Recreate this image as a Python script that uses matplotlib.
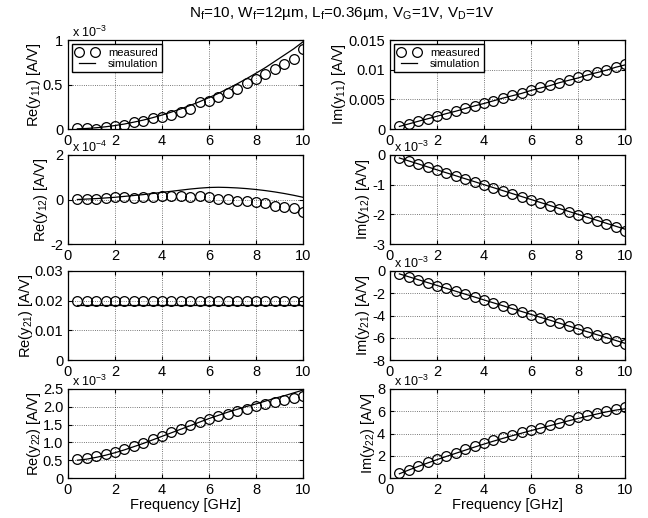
import matplotlib
matplotlib.use("Agg")
import matplotlib.pyplot as plt

plt.rcParams['font.family'] = ['Liberation Sans', 'DejaVu Sans']
plt.rcParams['mathtext.default'] = 'regular'
plt.rcParams['font.size'] = 10

# frequency points [GHz]
freq = [0.4, 0.8, 1.2, 1.6, 2.0, 2.4, 2.8, 3.2, 3.6, 4.0, 4.4, 4.8, 5.2,
        5.6, 6.0, 6.4, 6.8, 7.2, 7.6, 8.0, 8.4, 8.8, 9.2, 9.6, 10.0]

# Re(y11) x 1e-3
re_y11_meas = [0.01, 0.01, 0.005, 0.02, 0.03, 0.05, 0.08, 0.09, 0.12, 0.14, 0.16, 0.19, 0.23,
               0.30, 0.32, 0.36, 0.41, 0.45, 0.52, 0.56, 0.62, 0.67, 0.73, 0.79, 0.90]
re_y11_sim = [0.002, 0.006, 0.014, 0.025, 0.039, 0.056, 0.077, 0.100, 0.127, 0.157, 0.190, 0.226, 0.265,
              0.307, 0.353, 0.400, 0.453, 0.508, 0.566, 0.627, 0.690, 0.760, 0.830, 0.900, 0.980]
# Im(y11)
im_y11_meas = [0.00044, 0.00087, 0.0013, 0.00174, 0.00218, 0.0026, 0.00305, 0.0035, 0.0039, 0.0044,
               0.0048, 0.0052, 0.0057, 0.0061, 0.0065, 0.0070, 0.0074, 0.0078, 0.0083, 0.0087,
               0.0091, 0.0096, 0.0100, 0.0104, 0.0109]
im_y11_sim = [0.00043, 0.00086, 0.0013, 0.00172, 0.00215, 0.0026, 0.0030, 0.00345, 0.0039, 0.0043,
              0.00475, 0.0052, 0.0056, 0.0060, 0.0065, 0.0069, 0.0073, 0.0078, 0.0082, 0.0086,
              0.0091, 0.0095, 0.0099, 0.0104, 0.0108]
# Re(y12) x 1e-4
re_y12_meas = [0.02, 0.02, 0.02, 0.05, 0.13, 0.13, 0.07, 0.13, 0.13, 0.17, 0.14, 0.17, 0.10,
               0.16, 0.13, 0.02, 0.02, -0.05, -0.05, -0.13, -0.16, -0.31, -0.35, -0.40, -0.55]
re_y12_sim = [0.0, 0.02, 0.04, 0.07, 0.10, 0.14, 0.18, 0.22, 0.27, 0.32, 0.37, 0.42, 0.47,
              0.51, 0.54, 0.55, 0.54, 0.52, 0.49, 0.45, 0.40, 0.34, 0.27, 0.19, 0.10]
# Im(y12) x 1e-3
im_y12_meas = [-0.10, -0.20, -0.30, -0.40, -0.50, -0.60, -0.70, -0.80, -0.90, -1.00, -1.10, -1.20, -1.30,
               -1.40, -1.50, -1.61, -1.71, -1.82, -1.93, -2.03, -2.13, -2.23, -2.34, -2.44, -2.55]
im_y12_sim = [-0.10, -0.20, -0.30, -0.40, -0.50, -0.60, -0.70, -0.80, -0.90, -1.00, -1.10, -1.20, -1.30,
              -1.40, -1.50, -1.60, -1.70, -1.80, -1.90, -2.00, -2.10, -2.20, -2.30, -2.40, -2.50]
# Re(y21)
re_y21_meas = [0.0199, 0.0199, 0.0199, 0.0199, 0.0199, 0.0199, 0.0199, 0.0199, 0.0199, 0.0199,
               0.0199, 0.0199, 0.0199, 0.0199, 0.0199, 0.0199, 0.0199, 0.0199, 0.0199, 0.0199,
               0.0199, 0.0199, 0.0199, 0.0199, 0.0199]
re_y21_sim = [0.0186, 0.0186, 0.0186, 0.0186, 0.0186, 0.0186, 0.0186, 0.0186, 0.0186, 0.0186,
              0.0186, 0.0186, 0.0186, 0.0186, 0.0186, 0.0186, 0.0186, 0.0186, 0.0186, 0.0186,
              0.0186, 0.0186, 0.0186, 0.0186, 0.0186]
# Im(y21) x 1e-3
im_y21_meas = [-0.26, -0.52, -0.79, -1.05, -1.31, -1.57, -1.83, -2.10, -2.36, -2.62, -2.88, -3.14, -3.40,
               -3.67, -3.93, -4.19, -4.45, -4.71, -4.98, -5.24, -5.50, -5.76, -6.02, -6.29, -6.55]
im_y21_sim = [-0.26, -0.52, -0.78, -1.04, -1.30, -1.56, -1.82, -2.08, -2.34, -2.60, -2.86, -3.12, -3.38,
              -3.64, -3.90, -4.16, -4.42, -4.68, -4.94, -5.20, -5.46, -5.72, -5.98, -6.24, -6.50]
# Re(y22) x 1e-3
re_y22_meas = [0.54, 0.56, 0.61, 0.68, 0.74, 0.82, 0.91, 0.99, 1.09, 1.19, 1.29, 1.38, 1.48,
               1.57, 1.65, 1.74, 1.80, 1.88, 1.94, 2.01, 2.07, 2.13, 2.19, 2.25, 2.29]
re_y22_sim = [0.50, 0.53, 0.58, 0.64, 0.71, 0.79, 0.88, 0.97, 1.07, 1.17, 1.27, 1.37, 1.47,
              1.57, 1.67, 1.76, 1.85, 1.93, 2.01, 2.08, 2.16, 2.24, 2.31, 2.39, 2.47]
# Im(y22) x 1e-3
im_y22_meas = [0.42, 0.75, 1.08, 1.40, 1.70, 2.00, 2.28, 2.57, 2.85, 3.14, 3.40, 3.65, 3.88,
               4.10, 4.31, 4.53, 4.75, 4.97, 5.20, 5.45, 5.62, 5.82, 6.02, 6.22, 6.40]
im_y22_sim = [0.38, 0.72, 1.04, 1.35, 1.65, 1.94, 2.22, 2.50, 2.78, 3.05, 3.31, 3.56, 3.80,
              4.03, 4.26, 4.48, 4.70, 4.92, 5.14, 5.35, 5.55, 5.75, 5.94, 6.10, 6.22]

panels = [
    # (meas, sim, ylabel, ylim, yticks, yticklabels, multiplier, legend)
    (re_y11_meas, re_y11_sim, r'Re(y$_{11}$) [A/V]', (0, 1), [0, 0.5, 1], ['0', '0.5', '1'], '-3', True),
    (im_y11_meas, im_y11_sim, r'Im(y$_{11}$) [A/V]', (0, 0.015), [0, 0.005, 0.01, 0.015],
     ['0', '0.005', '0.01', '0.015'], None, True),
    (re_y12_meas, re_y12_sim, r'Re(y$_{12}$) [A/V]', (-2, 2), [-2, 0, 2], ['-2', '0', '2'], '-4', False),
    (im_y12_meas, im_y12_sim, r'Im(y$_{12}$) [A/V]', (-3, 0), [-3, -2, -1, 0], ['-3', '-2', '-1', '0'], '-3', False),
    (re_y21_meas, re_y21_sim, r'Re(y$_{21}$) [A/V]', (0, 0.03), [0, 0.01, 0.02, 0.03],
     ['0', '0.01', '0.02', '0.03'], None, False),
    (im_y21_meas, im_y21_sim, r'Im(y$_{21}$) [A/V]', (-8, 0), [-8, -6, -4, -2, 0],
     ['-8', '-6', '-4', '-2', '0'], '-3', False),
    (re_y22_meas, re_y22_sim, r'Re(y$_{22}$) [A/V]', (0, 2.5), [0, 0.5, 1.0, 1.5, 2.0, 2.5],
     ['0', '0.5', '1.0', '1.5', '2.0', '2.5'], '-3', False),
    (im_y22_meas, im_y22_sim, r'Im(y$_{22}$) [A/V]', (0, 8), [0, 2, 4, 6, 8], ['0', '2', '4', '6', '8'], '-3', False),
]

fig = plt.figure(figsize=(6.48, 5.18), dpi=100)
W, H = 648.0, 518.0
row_tops = [40, 155, 271, 389]
col_lefts = [68, 390]
ax_w, ax_h = 235, 89

for i, (meas, sim, ylab, ylim, yt, ytl, mult, leg) in enumerate(panels):
    r, c = divmod(i, 2)
    ax = fig.add_axes([col_lefts[c] / W, 1 - (row_tops[r] + ax_h) / H, ax_w / W, ax_h / H])
    ax.plot(freq, meas, 'o', mfc='none', mec='black', ms=7, mew=0.9, label='measured')
    ax.plot(freq, sim, '-', color='black', lw=0.9, label='simulation')
    ax.set_xlim(0, 10)
    ax.set_ylim(*ylim)
    ax.set_xticks([0, 2, 4, 6, 8, 10])
    ax.set_yticks(yt)
    ax.set_yticklabels(ytl)
    ax.grid(True, linestyle=':', color='black', linewidth=0.6, alpha=0.7)
    ax.tick_params(direction='in', top=True, right=True, length=3, labelsize=10.5)
    ax.set_ylabel(ylab, fontsize=10.5, labelpad=0)
    for s in ax.spines.values():
        s.set_linewidth(0.9)
    if mult is not None:
        ax.text(0.015, 1.0, r'x 10$^{%s}$' % mult, transform=ax.transAxes, fontsize=9,
                ha='left', va='bottom')
    if leg:
        ax.legend(loc='upper left', numpoints=2, fontsize=8, frameon=True, fancybox=False,
                  edgecolor='black', framealpha=1, handlelength=2.0, borderpad=0.3,
                  labelspacing=0.1, handletextpad=0.9, borderaxespad=0.4)
    if r == 3:
        ax.set_xlabel('Frequency [GHz]', fontsize=10.5, labelpad=1)

fig.text(342 / W, 1 - 14 / H,
         r'N$_f$=10, W$_f$=12µm, L$_f$=0.36µm, V$_G$=1V, V$_D$=1V',
         ha='center', va='center', fontsize=11)

fig.savefig('out.png', dpi=100)
